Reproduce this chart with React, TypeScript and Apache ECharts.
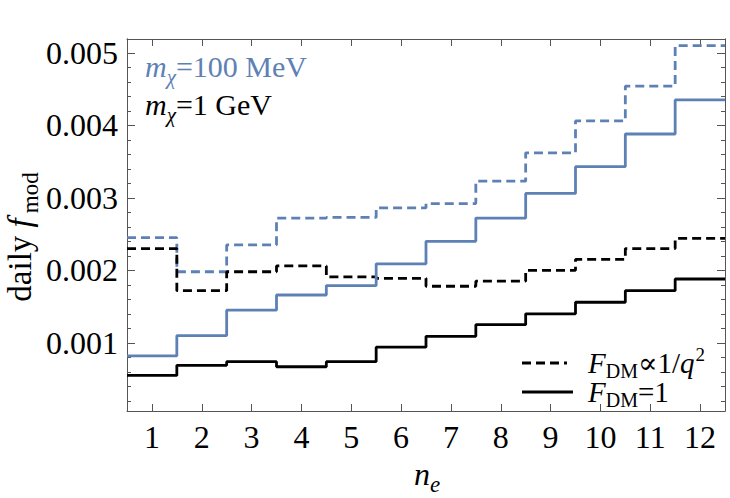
import React, { useEffect, useRef } from "react";
import * as echarts from "echarts";

// bin edges of n_e histogram (bins centred on 1..12)
const binEdges = [0.5, 1.5, 2.5, 3.5, 4.5, 5.5, 6.5, 7.5, 8.5, 9.5, 10.5, 11.5, 12.5];
const xTicks = [1, 2, 3, 4, 5, 6, 7, 8, 9, 10, 11, 12];
const yMajorTicks = [0.001, 0.002, 0.003, 0.004, 0.005];
const yMinorTicks = [
  0.0002, 0.0004, 0.0006, 0.0008, 0.0012, 0.0014, 0.0016, 0.0018, 0.0022, 0.0024, 0.0026, 0.0028,
  0.0032, 0.0034, 0.0036, 0.0038, 0.0042, 0.0044, 0.0046, 0.0048, 0.0052,
];

// m_chi = 100 MeV (blue)
const blueDashed = [0.00245, 0.00198, 0.00235, 0.00272, 0.00273, 0.00286, 0.00292, 0.00323, 0.00362, 0.00406, 0.00454, 0.0051];
const blueSolid = [0.00082, 0.0011, 0.00145, 0.00166, 0.00179, 0.00209, 0.0024, 0.00272, 0.00306, 0.00343, 0.00388, 0.00435];
// m_chi = 1 GeV (black)
const blackDashed = [0.0023, 0.00172, 0.00198, 0.00206, 0.00191, 0.00189, 0.00178, 0.00185, 0.002, 0.00215, 0.0023, 0.00244];
const blackSolid = [0.00055, 0.00069, 0.00074, 0.00067, 0.00074, 0.00094, 0.00109, 0.00125, 0.0014, 0.00156, 0.00172, 0.00188];

const BLUE = "#5E81B5";
const FONT = '"Liberation Serif", "DejaVu Serif", serif';
const FRAME = "#555";

let measureCtx: CanvasRenderingContext2D | null = null;
function measure(t: string, size: number, italic?: boolean) {
  if (!measureCtx) measureCtx = document.createElement("canvas").getContext("2d");
  if (!measureCtx) return t.length * size * 0.5;
  measureCtx.font = `${italic ? "italic " : ""}${size}px ${FONT}`;
  return measureCtx.measureText(t).width;
}

type Part = { t: string; size: number; italic?: boolean; dy?: number; dx?: number };

function richLine(parts: Part[], x: number, baseline: number, color: string, anchor: "left" | "center" = "left") {
  const widths = parts.map((p) => measure(p.t, p.size, p.italic) + (p.dx || 0));
  const total = widths.reduce((a, b) => a + b, 0);
  let cx = anchor === "center" ? x - total / 2 : x;
  return parts.map((p, i) => {
    const el = {
      type: "text",
      x: cx + (p.dx || 0),
      y: baseline + (p.dy || 0) - 0.34 * p.size,
      silent: true,
      style: {
        text: p.t,
        fill: color,
        font: `${p.italic ? "italic " : ""}${p.size}px ${FONT}`,
        align: "left",
        verticalAlign: "middle",
      },
    };
    cx += widths[i];
    return el;
  });
}

function stepData(values: number[]) {
  const pts: number[][] = values.map((v, i) => [binEdges[i], v]);
  pts.push([binEdges[binEdges.length - 1], values[values.length - 1]]);
  return pts;
}

export default function App() {
  const ref = useRef<HTMLDivElement>(null);
  useEffect(() => {
    if (!ref.current) return;
    const chart = echarts.init(ref.current, null, { renderer: "svg" });
    const axisLine = { show: true, lineStyle: { color: FRAME, width: 1 } };
    const xBase = {
      type: "value",
      min: 0.5,
      max: 12.5,
      splitLine: { show: false },
      axisLine,
      axisTick: { show: true, inside: true, length: 7, customValues: xTicks, lineStyle: { color: FRAME } },
    };
    const yBase = {
      type: "value",
      min: 0.00006,
      max: 0.00519,
      splitLine: { show: false },
      axisLine,
    };
    const series = [
      { data: stepData(blueDashed), color: BLUE, type: [9, 5] },
      { data: stepData(blackDashed), color: "#000", type: [9, 5] },
      { data: stepData(blueSolid), color: BLUE, type: "solid" },
      { data: stepData(blackSolid), color: "#000", type: "solid" },
    ].map((s) => ({
      type: "line",
      step: "end",
      data: s.data,
      showSymbol: false,
      symbol: "none",
      lineStyle: { color: s.color, width: 2.8, type: s.type },
      xAxisIndex: 0,
      yAxisIndex: 0,
      silent: true,
    }));

    const graphic: any[] = [
      // y-axis title
      {
        type: "group",
        x: 31,
        y: 237,
        rotation: Math.PI / 2,
        children: richLine(
          [
            { t: "daily ", size: 33 },
            { t: "f", size: 33, italic: true },
            { t: "mod", size: 23, dy: 7, dx: 5 },
          ],
          0,
          0,
          "#000",
          "center"
        ),
      },
      // x-axis title
      ...richLine(
        [
          { t: "n", size: 32, italic: true },
          { t: "e", size: 23, italic: true, dy: 7 },
        ],
        427,
        485,
        "#000",
        "center"
      ),
      // mass annotations
      ...richLine(
        [
          { t: "m", size: 30, italic: true },
          { t: "χ", size: 21, italic: true, dy: 7 },
          { t: "=100 MeV", size: 30 },
        ],
        145,
        77,
        BLUE
      ),
      ...richLine(
        [
          { t: "m", size: 30, italic: true },
          { t: "χ", size: 21, italic: true, dy: 7 },
          { t: "=1 GeV", size: 30 },
        ],
        145,
        115,
        "#000"
      ),
      // legend
      {
        type: "line",
        shape: { x1: 522, y1: 363, x2: 567, y2: 363 },
        style: { stroke: "#000", lineWidth: 2.8, lineDash: [9, 5] },
        silent: true,
      },
      {
        type: "line",
        shape: { x1: 522, y1: 392, x2: 573, y2: 392 },
        style: { stroke: "#000", lineWidth: 2.8 },
        silent: true,
      },
      ...richLine(
        [
          { t: "F", size: 29, italic: true },
          { t: "DM", size: 20, dy: 5 },
          { t: "∝1/", size: 29 },
          { t: "q", size: 29, italic: true },
          { t: "2", size: 19, dy: -12, dx: 1 },
        ],
        588,
        373,
        "#000"
      ),
      ...richLine(
        [
          { t: "F", size: 29, italic: true },
          { t: "DM", size: 20, dy: 5 },
          { t: "=1", size: 29 },
        ],
        588,
        402,
        "#000"
      ),
    ];

    chart.setOption({
      animation: false,
      backgroundColor: "#fff",
      grid: { left: 127, right: 5, top: 39, bottom: 87, containLabel: false },
      xAxis: [
        {
          ...xBase,
          position: "bottom",
          axisLabel: {
            show: true,
            customValues: xTicks,
            fontSize: 32,
            fontFamily: FONT,
            color: "#000",
            margin: 10,
          },
        },
        { ...xBase, position: "top", axisLabel: { show: false } },
      ],
      yAxis: [
        {
          ...yBase,
          position: "left",
          axisTick: { show: true, inside: true, length: 8, customValues: yMajorTicks, lineStyle: { color: FRAME } },
          axisLabel: {
            show: true,
            customValues: yMajorTicks,
            formatter: (v: number) => v.toFixed(3),
            fontSize: 32,
            fontFamily: FONT,
            color: "#000",
            margin: 9,
          },
        },
        {
          ...yBase,
          position: "left",
          axisTick: { show: true, inside: true, length: 4, customValues: yMinorTicks, lineStyle: { color: FRAME } },
          axisLabel: { show: false },
        },
        {
          ...yBase,
          position: "right",
          axisTick: { show: true, inside: true, length: 8, customValues: yMajorTicks, lineStyle: { color: FRAME } },
          axisLabel: { show: false },
        },
        {
          ...yBase,
          position: "right",
          axisTick: { show: true, inside: true, length: 4, customValues: yMinorTicks, lineStyle: { color: FRAME } },
          axisLabel: { show: false },
        },
      ],
      series,
      graphic,
    } as any);
    return () => chart.dispose();
  }, []);
  return <div ref={ref} style={{ width: 730, height: 498, position: "absolute", left: 0, top: 0 }} />;
}
